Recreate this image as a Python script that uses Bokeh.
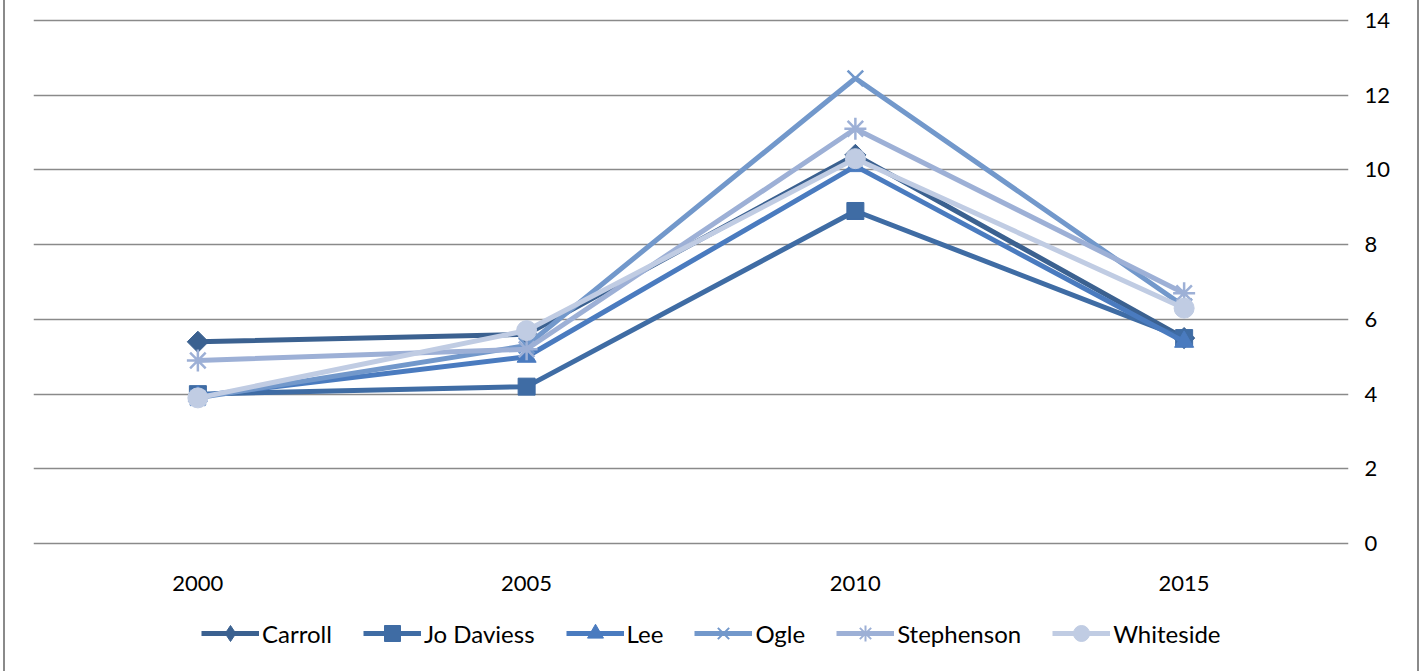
import numpy as np
from bokeh.plotting import figure
from bokeh.layouts import column, row
from bokeh.models import FactorRange, Range1d, FixedTicker, Legend, LegendItem, Spacer
from bokeh.embed import file_html
from bokeh.resources import INLINE

years = ["2000", "2005", "2010", "2015"]
carroll = [5.4, 5.6, 10.4, 5.5]
jo_daviess = [4.0, 4.2, 8.9, 5.5]
lee = [3.95, 5.0, 10.1, 5.4]
ogle = [3.9, 5.3, 12.45, 6.35]
stephenson = [4.9, 5.2, 11.1, 6.7]
whiteside = [3.9, 5.7, 10.3, 6.3]
y_ticks = [0, 2, 4, 6, 8, 10, 12, 14]

series = [
    ("Carroll", carroll, "#3B6190", "square", 15, np.pi / 4, "diamond"),
    ("Jo Daviess", jo_daviess, "#3F6CA4", "square", 17, 0.0, "square"),
    ("Lee", lee, "#4A7BBF", "triangle", 19, 0.0, "triangle"),
    ("Ogle", ogle, "#7298CB", "x", 22, 0.0, "x"),
    ("Stephenson", stephenson, "#9DB0D6", "asterisk", 22, 0.0, "asterisk"),
    ("Whiteside", whiteside, "#C0CCE3", "circle", 20, 0.0, "circle"),
]

FONT = "Lato"
W = 1412

p = figure(width=W, height=600, x_range=FactorRange(*years, range_padding=0),
           y_range=Range1d(-0.05, 14.05), y_axis_location="right",
           output_backend="svg", toolbar_location=None,
           min_border_top=18, min_border_left=28, min_border_right=69, min_border_bottom=55)
p.outline_line_color = None
p.background_fill_color = "white"
p.border_fill_color = "white"

p.xgrid.grid_line_color = None
p.ygrid.grid_line_color = "#8A8A8A"
p.ygrid.grid_line_width = 1.5
p.yaxis.ticker = FixedTicker(ticks=y_ticks)

for ax in (p.xaxis[0], p.yaxis[0]):
    ax.axis_line_color = None
    ax.major_tick_line_color = None
    ax.minor_tick_line_color = None
    ax.major_label_text_font = FONT
    ax.major_label_text_font_size = "22px"
    ax.major_label_text_color = "black"
p.xaxis.major_label_standoff = 24
p.yaxis.major_label_standoff = 10

# legend-only figure: same series drawn far outside its visible range
lg = figure(width=W, height=71, x_range=FactorRange(*years, range_padding=0),
            y_range=Range1d(100, 101), x_axis_type=None, y_axis_type=None,
            output_backend="svg", toolbar_location=None,
            min_border=0)
lg.outline_line_color = None
lg.xgrid.grid_line_color = None
lg.ygrid.grid_line_color = None

items = []
for name, vals, color, marker, size, ang, lmarker in series:
    p.line(years, vals, line_color=color, line_width=5)
    p.scatter(years, vals, marker=marker, size=size, angle=ang,
              fill_color=color, line_color=color,
              line_width=2.5 if marker in ("x", "asterisk") else 1)
    ln = lg.line(years, vals, line_color=color, line_width=5)
    sc = lg.scatter(years, vals, marker=lmarker, size=size,
                    fill_color=color, line_color=color,
                    line_width=2 if lmarker in ("x", "asterisk") else 1)
    items.append(LegendItem(label=name, renderers=[ln, sc]))

legend = Legend(items=items, orientation="horizontal", location=(168, 18),
                glyph_width=58, glyph_height=40, label_standoff=3, spacing=31,
                padding=0, margin=0, border_line_color=None,
                background_fill_alpha=0,
                label_text_font=FONT, label_text_font_size="24px",
                label_text_color="black")
lg.add_layout(legend, "center")

left_gap = Spacer(width=3, height=671)
left_border = Spacer(width=2, height=671, styles={"background-color": "#8A8A8A"})
right_border = Spacer(width=2, height=671, styles={"background-color": "#8A8A8A"})
chart = column(p, lg, spacing=0)
layout = row(left_gap, left_border, chart, right_border, spacing=0)
open("out.html", "w").write(file_html(layout, INLINE))
